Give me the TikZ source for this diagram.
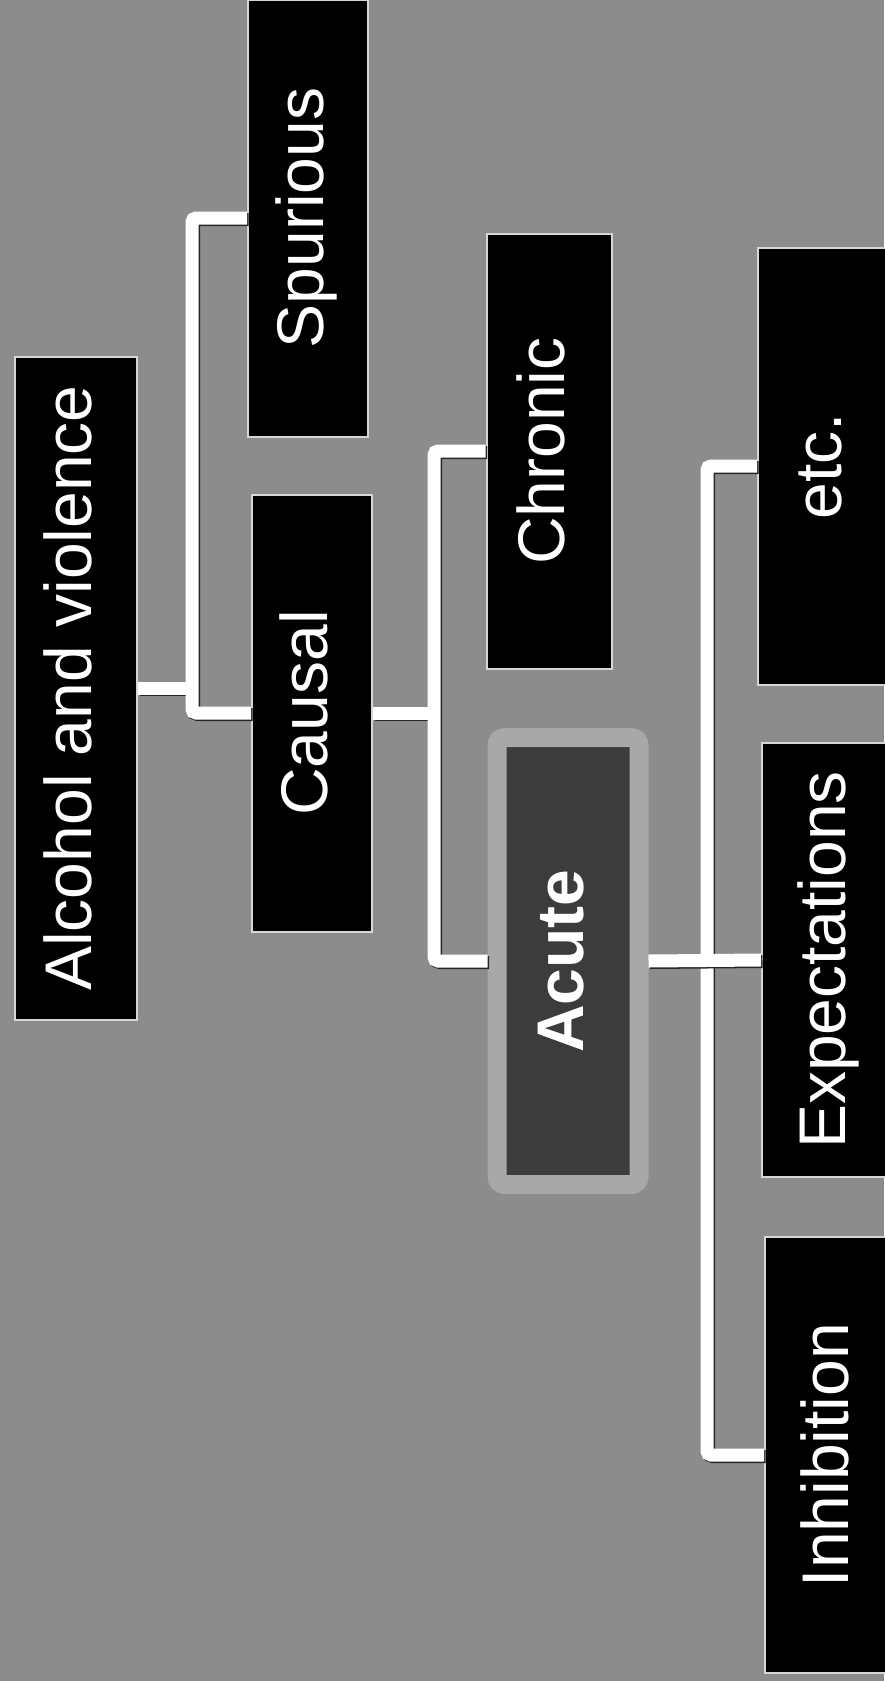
\documentclass[tikz,border=0pt]{standalone}
\usepackage{fontspec}
\setmainfont{Liberation Sans}
\usepackage{graphicx}
\usepackage{tikz}
\definecolor{backdrop}{HTML}{8C8C8C}
\definecolor{rim}{HTML}{D6D6D6}
\definecolor{ring}{HTML}{A8A8A8}
\definecolor{acutefill}{HTML}{3C3C3C}
\newcommand{\boxlabel}[1]{\rotatebox{90}{\strut #1}}

\begin{document}
\begin{tikzpicture}[x=1pt,y=-1pt,
    tag/.style={fill=black,draw=rim,line width=2pt,inner sep=0pt,text=white,
        font=\fontsize{66}{79}\selectfont,minimum width=120pt,minimum height=437pt},
    wire/.style={draw=white,line width=13pt,rounded corners=4pt,
        preaction={draw=black!85,line width=13pt,transform canvas={shift={(1.5pt,-1.5pt)}}}}]
    \useasboundingbox (0,0) rectangle (884,1681);
    \fill[backdrop] (0,0) rectangle (884,1681);
    \node[tag,minimum width=122pt,minimum height=663pt] (alc) at (76,688) {\boxlabel{Alcohol and violence}};
    \node[tag] (spur) at (308,218) {\boxlabel{Spurious}};
    \node[tag] (caus) at (312,713) {\boxlabel{Causal}};
    \node[tag,minimum width=125pt,minimum height=435pt] (chron) at (549,451) {\boxlabel{Chronic}};
    \node[tag,fill=acutefill,draw=ring,line width=19pt,rounded corners=8pt,outer sep=9.5pt,
        minimum width=142pt,minimum height=447pt,font=\fontsize{66}{79}\selectfont\bfseries] (acute) at (568,961) {\boxlabel{Acute}};
    \node[tag,minimum width=136pt] (etc) at (826,466) {\boxlabel{etc.}};
    \node[tag,minimum width=136pt,minimum height=434pt] (expect) at (830,960) {\boxlabel{Expectations}};
    \node[tag,minimum width=136pt,minimum height=436pt] (inhib) at (833,1455) {\boxlabel{Inhibition}};
    \coordinate (j1) at (192,0);
    \coordinate (j2) at (434,0);
    \coordinate (j3) at (707,0);
    \draw[wire] (alc.east) -- (alc.east -| j1);
    \draw[wire] (spur.west) -| (j1 |- caus.west) -- (caus.west);
    \draw[wire] (caus.east) -- (caus.east -| j2);
    \draw[wire] (chron.west) -| (j2 |- acute.west) -- (acute.west);
    \draw[wire] (etc.west) -| (j3 |- inhib.west) -- (inhib.west);
    \draw[wire] (acute.east) -- (expect.west);
\end{tikzpicture}
\end{document}
